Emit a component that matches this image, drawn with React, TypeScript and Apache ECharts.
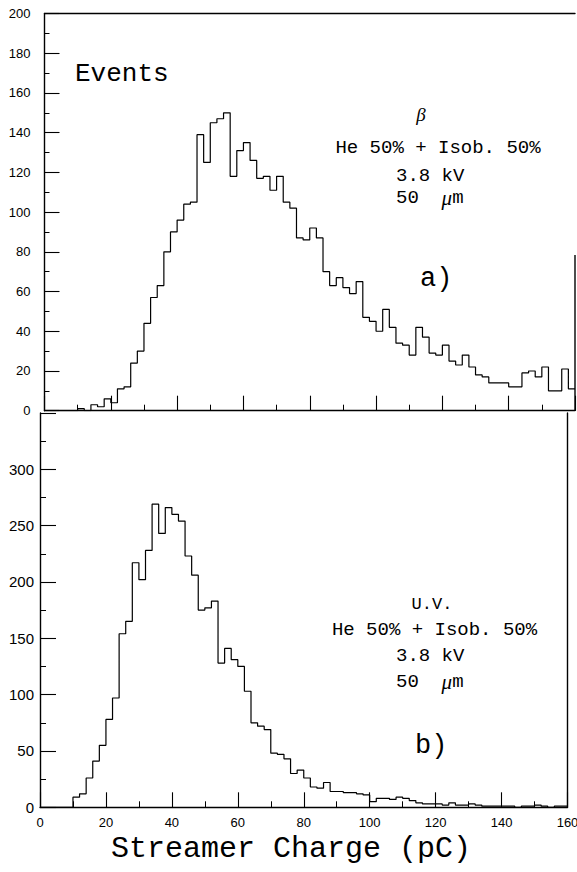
import React, { useEffect, useRef } from "react";
import * as echarts from "echarts";

// Bin width 2 pC, 80 bins from 0 to 160 pC
const BIN_WIDTH = 2;
const X_MAX = 160;

// a) beta source, counts per 2 pC bin (bin start 0,2,4,...,158)
const betaCounts = [
  0, 0, 0, 0, 0, 1, 0, 3, 2, 6,
  4, 11, 12, 24, 30, 44, 57, 63, 80, 90,
  96, 104, 105, 139, 125, 145, 147, 150, 118, 131,
  135, 126, 117, 118, 111, 118, 105, 102, 87, 86,
  92, 87, 70, 63, 67, 62, 59, 65, 47, 45,
  40, 51, 42, 34, 33, 28, 42, 37, 29, 28,
  33, 25, 23, 28, 22, 18, 17, 14, 14, 14,
  12, 12, 19, 20, 17, 22, 10, 10, 21, 11,
];

// b) U.V. source, counts per 2 pC bin
const uvCounts = [
  0, 0, 0, 0, 0, 9, 12, 26, 41, 55,
  78, 97, 154, 165, 217, 202, 228, 269, 243, 266,
  260, 254, 223, 206, 175, 177, 183, 128, 141, 131,
  125, 103, 75, 72, 69, 48, 47, 43, 30, 33,
  26, 18, 17, 22, 14, 14, 13, 13, 12, 11,
  5, 8, 8, 7, 9, 8, 6, 4, 3, 3,
  3, 2, 4, 2, 2, 3, 2, 1, 1, 1,
  1, 1, 0, 1, 1, 2, 1, 0, 1, 1,
];

const xTicks = [0, 20, 40, 60, 80, 100, 120, 140, 160];
const topYTicks = [0, 20, 40, 60, 80, 100, 120, 140, 160, 180, 200];
const bottomYTicks = [0, 50, 100, 150, 200, 250, 300, 350];

const annotationA = ["β", "He 50% + Isob. 50%", "3.8 kV", "50  {i|μ}m", "a)"];
const annotationB = ["U.V.", "He 50% + Isob. 50%", "3.8 kV", "50  {i|μ}m", "b)"];
const yTitle = "Events";
const xTitle = "Streamer Charge (pC)";

function stepData(values: number[]) {
  const pts: number[][] = values.map((v, i) => [i * BIN_WIDTH, v]);
  pts.push([X_MAX, values[values.length - 1]]);
  return pts;
}

const BLACK = "#000";
const MONO = "'Liberation Mono', 'DejaVu Sans Mono', monospace";
const SANS = "'Liberation Sans', Arial, sans-serif";

export default function App() {
  const ref = useRef<HTMLDivElement>(null);

  useEffect(() => {
    document.body.style.margin = "0";
    if (!ref.current) return;
    const chart = echarts.init(ref.current, undefined, { renderer: "svg" });

    const axisLine = { show: true, lineStyle: { color: BLACK, width: 1.4 } };

    const xCommon = (gridIndex: number, showLabels: boolean) => ({
      type: "value",
      gridIndex,
      min: xTicks[0],
      max: xTicks[xTicks.length - 1],
      interval: xTicks[1] - xTicks[0],
      axisLine,
      axisTick: { show: true, inside: true, length: 15, lineStyle: { color: BLACK, width: 1.1 } },
      minorTick: { show: true, splitNumber: 2, length: 6, lineStyle: { color: BLACK, width: 1 } },
      splitLine: { show: false },
      axisLabel: {
        show: showLabels,
        color: BLACK,
        fontFamily: SANS,
        fontSize: 13,
        margin: 9,
      },
    });

    const option: any = {
      animation: false,
      backgroundColor: "#fff",
      grid: [
        { left: 44.5, top: 13.5, width: 530.5, height: 397.2, outerBoundsMode: "none", containLabel: false },
        { left: 40, top: 412.9, width: 527.5, height: 394.4, outerBoundsMode: "none", containLabel: false },
      ],
      xAxis: [
        xCommon(0, false),
        {
          type: "value",
          gridIndex: 0,
          position: "top",
          min: 0,
          max: X_MAX,
          axisLine,
          axisTick: { show: false },
          axisLabel: { show: false },
          splitLine: { show: false },
        },
        xCommon(1, true),
      ],
      yAxis: [
        {
          type: "value",
          gridIndex: 0,
          min: topYTicks[0],
          max: topYTicks[topYTicks.length - 1],
          interval: topYTicks[1] - topYTicks[0],
          axisLine,
          axisTick: { show: true, inside: true, length: 15, lineStyle: { color: BLACK, width: 1.1 } },
          minorTick: { show: true, splitNumber: 2, length: 5, lineStyle: { color: BLACK, width: 1 } },
          splitLine: { show: false },
          axisLabel: { color: BLACK, fontFamily: SANS, fontSize: 13, margin: 14 },
        },
        {
          type: "value",
          gridIndex: 1,
          min: bottomYTicks[0],
          max: bottomYTicks[bottomYTicks.length - 1],
          interval: bottomYTicks[1] - bottomYTicks[0],
          axisLine,
          axisTick: { show: true, inside: true, length: 16, lineStyle: { color: BLACK, width: 1.1 } },
          minorTick: { show: true, splitNumber: 2, length: 6, lineStyle: { color: BLACK, width: 1 } },
          splitLine: { show: false },
          axisLabel: { color: BLACK, fontFamily: SANS, fontSize: 15, margin: 6, showMaxLabel: false },
        },
        {
          type: "value",
          gridIndex: 1,
          position: "right",
          min: 0,
          max: 350,
          axisLine,
          axisTick: { show: false },
          axisLabel: { show: false },
          splitLine: { show: false },
        },
      ],
      series: [
        {
          type: "line",
          xAxisIndex: 0,
          yAxisIndex: 0,
          step: "end",
          symbol: "none",
          data: stepData(betaCounts),
          lineStyle: { color: BLACK, width: 1.2 },
        },
        {
          type: "line",
          xAxisIndex: 2,
          yAxisIndex: 1,
          step: "end",
          symbol: "none",
          data: stepData(uvCounts),
          lineStyle: { color: BLACK, width: 1.2 },
        },
      ],
      graphic: [
        // partial right border of the upper panel
        { type: "line", shape: { x1: 575, y1: 255, x2: 575, y2: 411 }, style: { stroke: BLACK, lineWidth: 1.4 } },
        { type: "text", x: 75, y: 74, style: { text: yTitle, font: `26px ${MONO}`, fill: BLACK, textVerticalAlign: "middle" } },
        { type: "text", x: 291, y: 849, style: { text: xTitle, font: `30px ${MONO}`, fill: BLACK, textAlign: "center", textVerticalAlign: "middle" } },
        // annotation a)
        { type: "text", x: 421, y: 114, style: { text: annotationA[0], font: `italic 19px 'Liberation Serif', serif`, fill: BLACK, textAlign: "center", textVerticalAlign: "middle" } },
        { type: "text", x: 438, y: 148, style: { text: annotationA[1], font: `19px ${MONO}`, fill: BLACK, textAlign: "center", textVerticalAlign: "middle" } },
        { type: "text", x: 396, y: 176, style: { text: annotationA[2], font: `19px ${MONO}`, fill: BLACK, textVerticalAlign: "middle" } },
        {
          type: "text", x: 396, y: 198,
          style: {
            text: annotationA[3], font: `19px ${MONO}`, fill: BLACK, textVerticalAlign: "middle",
            rich: { i: { fontStyle: "italic", fontFamily: "'Liberation Serif', serif", fontSize: 21, fill: BLACK } },
          },
        },
        { type: "text", x: 420, y: 279, style: { text: annotationA[4], font: `27px ${MONO}`, fill: BLACK, textVerticalAlign: "middle" } },
        // annotation b)
        { type: "text", x: 432, y: 604, style: { text: annotationB[0], font: `17px ${MONO}`, fill: BLACK, textAlign: "center", textVerticalAlign: "middle" } },
        { type: "text", x: 434.5, y: 630, style: { text: annotationB[1], font: `19px ${MONO}`, fill: BLACK, textAlign: "center", textVerticalAlign: "middle" } },
        { type: "text", x: 396, y: 656, style: { text: annotationB[2], font: `19px ${MONO}`, fill: BLACK, textVerticalAlign: "middle" } },
        {
          type: "text", x: 396, y: 682,
          style: {
            text: annotationB[3], font: `19px ${MONO}`, fill: BLACK, textVerticalAlign: "middle",
            rich: { i: { fontStyle: "italic", fontFamily: "'Liberation Serif', serif", fontSize: 21, fill: BLACK } },
          },
        },
        { type: "text", x: 415, y: 746, style: { text: annotationB[4], font: `27px ${MONO}`, fill: BLACK, textVerticalAlign: "middle" } },
      ],
    };

    chart.setOption(option);
    return () => chart.dispose();
  }, []);

  return <div ref={ref} style={{ width: 577, height: 872 }} />;
}
